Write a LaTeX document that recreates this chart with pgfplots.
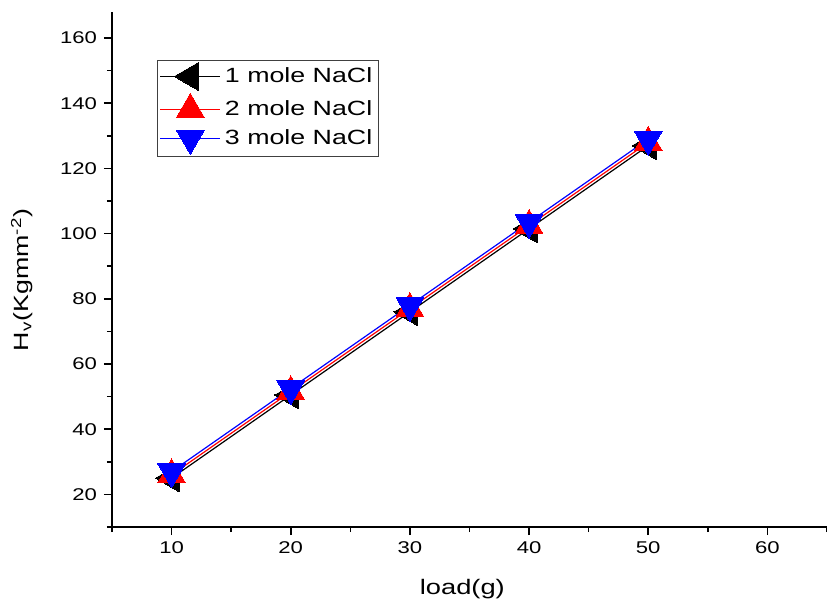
\documentclass[border=0pt]{standalone}
\usepackage{fontspec}
\setmainfont{Liberation Sans}[FakeStretch=1.3]
\usepackage{pgfplots}
\pgfplotsset{compat=1.18}

\begin{document}
\begin{tikzpicture}
\useasboundingbox (-56pt,-37pt) rectangle (357.5pt,263.5pt);
\begin{axis}[
    scale only axis,
    width=357.5pt, height=257.5pt,
    xmin=5, xmax=65, ymin=10, ymax=168,
    axis x line*=bottom, axis y line*=left,
    axis line style={-, line width=1pt},
    xtick={10,20,...,60}, minor xtick={5,15,...,65},
    ytick={20,40,...,160}, minor ytick={10,30,...,150},
    tick align=outside,
    major tick length=4pt, minor tick length=2.5pt,
    every tick/.style={line width=0.8pt, black},
    ticklabel style={font=\fontsize{8.5}{10}\selectfont},
    /pgf/number format/assume math mode=true,
    xlabel={load(g)},
    ylabel={H\textsubscript{v}(Kgmm\textsuperscript{-2})},
    every axis x label/.style={at={(axis description cs:0.49,0)}, anchor=center, yshift=-31pt, font=\fontsize{10.5}{12}\selectfont},
    every axis y label/.style={at={(axis description cs:-0.126,0.48)}, anchor=center, rotate=90, font=\fontsize{10.3}{12}\selectfont},
    legend style={at={(axis description cs:0.063,0.907)}, anchor=north west,
        draw=black!75, line width=0.7pt, font=\fontsize{10.3}{12}\selectfont,
        inner sep=1pt, row sep=1.5pt, legend cell align=left},
    legend image code/.code={\draw[mark repeat=2,mark phase=2] plot coordinates {(0pt,0pt)(15pt,0pt)(30pt,0pt)};},
    mark size=8pt,
]
\addplot[black, line width=0.6pt, mark=triangle*, mark options={rotate=90, fill=black, draw=black, line width=0pt}]
    coordinates {(10,25) (20,50.5) (30,76) (40,101.5) (50,127)};
\addlegendentry{1 mole NaCl}
\addplot[red, line width=0.6pt, mark=triangle*, mark options={fill=red, draw=red, line width=0pt}]
    coordinates {(10,26) (20,51.5) (30,77) (40,102.5) (50,128)};
\addlegendentry{2 mole NaCl}
\addplot[blue, line width=0.6pt, mark=triangle*, mark options={rotate=180, fill=blue, draw=blue, line width=0pt}]
    coordinates {(10,27) (20,52.5) (30,78) (40,103.5) (50,129)};
\addlegendentry{3 mole NaCl}
\end{axis}
\end{tikzpicture}
\end{document}
